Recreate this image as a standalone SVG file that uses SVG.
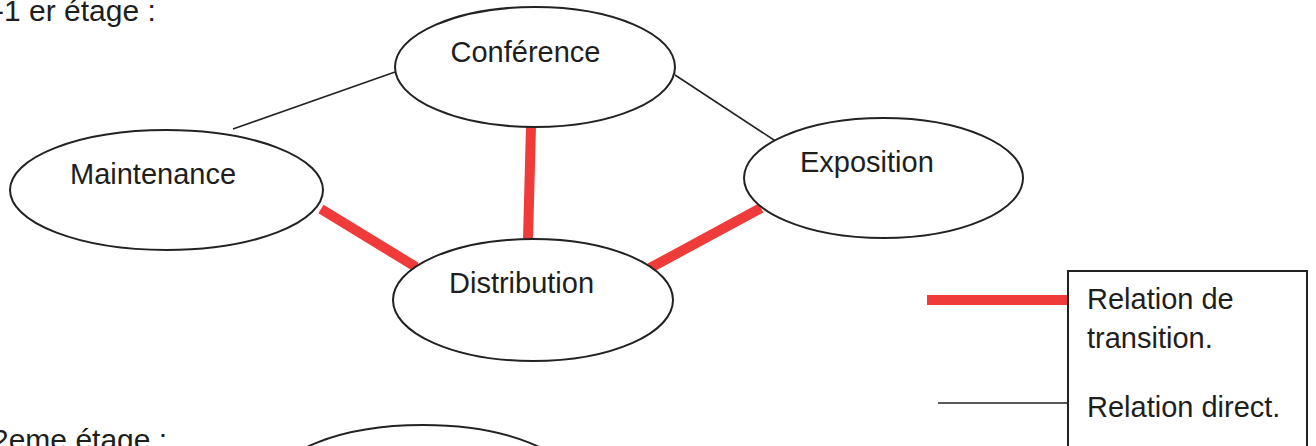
<svg xmlns="http://www.w3.org/2000/svg" width="1316" height="446" viewBox="0 0 1316 446">
<style>
text{font-family:"Liberation Sans",Arial,sans-serif;fill:#1e1e1e;font-size:29px}
.lbl{font-size:30px}
.node{fill:#fff;stroke:#222;stroke-width:2}
.direct{stroke:#222;stroke-width:1.6;fill:none}
.trans{stroke:#ef3b39;stroke-width:10;fill:none}
</style>
<rect width="1316" height="446" fill="#fff"/>
<text class="lbl" x="-6" y="21">-1 er étage :</text>
<text class="lbl" x="-8" y="450">2eme étage :</text>
<g id="connectors">
<line class="direct" x1="233" y1="129" x2="395" y2="72"/>
<line class="direct" x1="675" y1="75" x2="777" y2="142"/>
<line class="trans" x1="321" y1="209" x2="416" y2="267"/>
<line class="trans" x1="531" y1="126" x2="528" y2="239"/>
<line class="trans" x1="650" y1="268" x2="761" y2="208"/>
</g>
<g id="conference">
<ellipse class="node" cx="535" cy="67" rx="140" ry="60"/>
<text x="450.5" y="62">Conférence</text>
</g>
<g id="maintenance">
<ellipse class="node" cx="166.5" cy="190" rx="156.5" ry="60"/>
<text x="70" y="184">Maintenance</text>
</g>
<g id="distribution">
<ellipse class="node" cx="533" cy="300" rx="140" ry="61"/>
<text x="449" y="293">Distribution</text>
</g>
<g id="exposition">
<ellipse class="node" cx="883.5" cy="178" rx="139.5" ry="60"/>
<text x="800" y="172">Exposition</text>
</g>
<g id="etage2-node">
<ellipse class="node" cx="423" cy="485" rx="150" ry="60"/>
</g>
<g id="legend">
<line class="trans" x1="927" y1="300" x2="1068" y2="300"/>
<line class="direct" x1="938" y1="403" x2="1068" y2="403"/>
<rect x="1068" y="271" width="239" height="190" fill="#fff" stroke="#222" stroke-width="2"/>
<text x="1087" y="309">Relation de</text>
<text x="1087" y="348">transition.</text>
<text x="1087" y="417">Relation direct.</text>
</g>
</svg>
